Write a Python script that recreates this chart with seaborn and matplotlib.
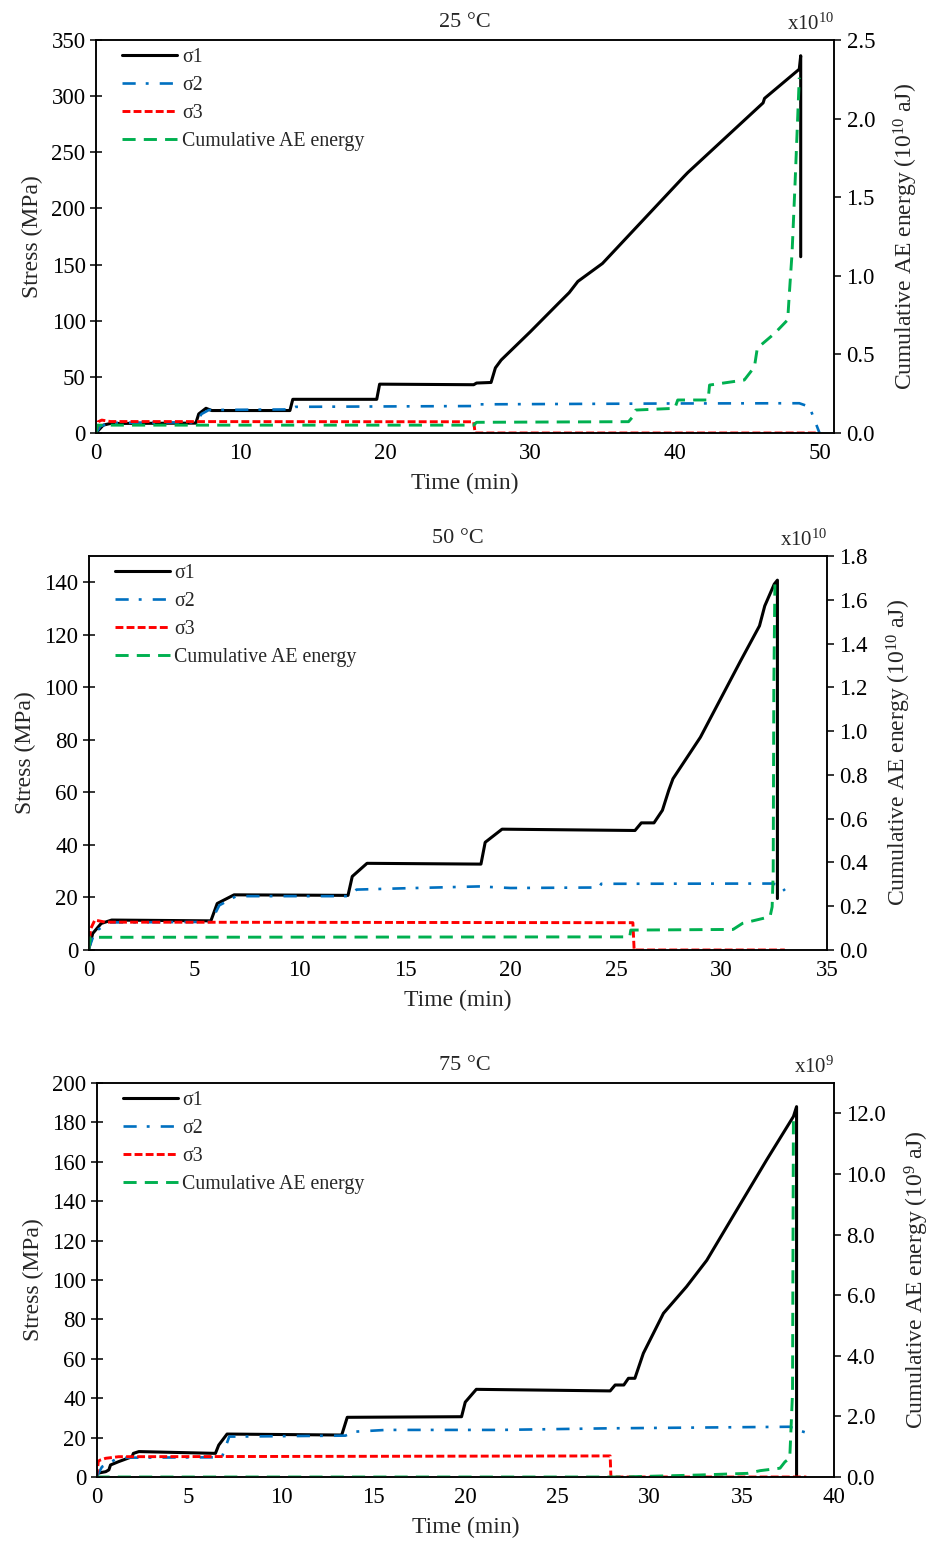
import numpy as np
import pandas as pd
import matplotlib
matplotlib.use("Agg")
import matplotlib.pyplot as plt
from matplotlib.ticker import MultipleLocator, FormatStrFormatter
import seaborn as sns

# ---------------- 25 °C ----------------
t25_s1 = [0, 0.5, 1.0, 6.9, 7.1, 7.6, 8.0, 13.4, 13.6, 19.4, 19.6, 26.1, 26.3, 27.3, 27.6, 28.0,
          30.0, 32.0, 32.7, 33.3, 35.0, 40.6, 40.9, 46.1, 46.2, 48.6, 48.7, 48.7]
s25_s1 = [0, 7, 8.5, 8.8, 17, 22, 20, 20, 30, 30, 43.5, 43, 44.5, 45, 58, 65,
          90, 116, 125, 135, 151, 228, 232, 294, 298, 324, 336, 157]
t25_s2 = [0, 0.3, 1.0, 6.9, 7.3, 7.8, 13.4, 13.8, 26.0, 26.2, 40.0, 48.6, 49.3, 50.0]
s25_s2 = [0, 6, 9, 9.5, 17, 20.5, 21, 23.3, 24, 25.5, 26.3, 26.5, 23.4, 0]
t25_s3 = [0, 0.15, 0.4, 1.0, 26.1, 26.2, 50.0]
s25_s3 = [0, 10, 11.5, 10.2, 10, 0, 0]
t25_ae = [0, 0.1, 26.1, 26.3, 36.8, 37.1, 37.3, 40.0, 40.2, 42.3, 42.4, 44.8, 45.5, 45.7,
          46.9, 47.8, 47.9, 48.1, 48.3, 48.6]
e25_ae = [0, 0.05, 0.05, 0.068, 0.072, 0.104, 0.146, 0.157, 0.21, 0.21, 0.305, 0.337, 0.42, 0.54,
          0.634, 0.72, 0.867, 1.143, 1.567, 2.26]

# ---------------- 50 °C ----------------
t50_s1 = [0, 0.2, 0.6, 1.1, 5.8, 6.1, 6.9, 12.3, 12.5, 13.2, 18.6, 18.8, 19.6, 25.9, 26.2, 26.8,
          27.2, 27.5, 27.7, 29.0, 30.9, 31.8, 32.05, 32.5, 32.65, 32.65]
s50_s1 = [0, 6.3, 10.1, 11.4, 11.1, 17.7, 21.0, 20.8, 28.0, 33.0, 32.7, 41, 46, 45.5, 48.4, 48.4,
          53.2, 60.8, 65.2, 81, 110, 123.4, 131, 139.3, 140.8, 19.6]
t50_s2 = [0, 0.3, 1.0, 5.8, 6.2, 7.0, 12.4, 12.7, 15.0, 18.5, 20.0, 24.2, 24.3, 32.4, 32.8, 33.0]
s50_s2 = [0, 7, 10.5, 10.7, 17, 20.5, 20.5, 23, 23.5, 24.2, 23.6, 23.8, 25.2, 25.3, 24.7, 22.5]
t50_s3 = [0, 0.1, 0.3, 0.8, 25.8, 25.86, 33.0]
s50_s3 = [0, 8, 11.4, 10.6, 10.4, 0, 0]
t50_ae = [0, 0.1, 25.65, 25.7, 30.55, 31.0, 32.3, 32.4, 32.45, 32.48, 32.53]
e50_ae = [0, 0.058, 0.06, 0.091, 0.094, 0.122, 0.152, 0.197, 0.35, 1.2, 1.67]

# ---------------- 75 °C ----------------
t75_s1 = [0, 0.05, 0.5, 0.67, 0.76, 1.2, 1.93, 2.0, 2.3, 6.45, 6.63, 7.08, 13.3, 13.6, 19.8, 20.0,
          20.6, 27.86, 28.13, 28.6, 28.85, 29.2, 29.66, 30.75, 32.0, 33.1, 34.5, 36.35, 37.8,
          37.97, 37.97]
s75_s1 = [0, 1.9, 2.7, 3.6, 6.1, 7.8, 10.3, 12, 12.9, 12.0, 16.2, 21.8, 21.3, 30.3, 30.6, 38,
          44.5, 43.7, 46.7, 46.7, 50.1, 50.1, 62.8, 83.1, 96.6, 110, 132, 161, 183,
          188, 0]
t75_s2 = [0, 0.3, 1.2, 6.8, 7.2, 13.5, 14.0, 15.7, 21.9, 27.7, 37.6, 38.15, 38.5]
s75_s2 = [0, 5.2, 9.8, 10, 20.5, 21, 23, 23.9, 23.9, 24.7, 25.5, 23.5, 22.5]
t75_s3 = [0, 0.1, 0.2, 0.5, 1.2, 27.86, 27.9, 38.5]
s75_s3 = [0, 8, 8.6, 9.5, 10.3, 10.7, 0, 0]
t75_ae = [0, 28.5, 32.7, 35.3, 36.0, 37.07, 37.34, 37.6, 37.75, 37.8]
e75_ae = [0, 0, 0.066, 0.12, 0.21, 0.29, 0.5, 0.62, 2.76, 12.0]

titles = ["25 °C", "50 °C", "75 °C"]
exponents = ["10", "10", "9"]

sns.set_style("white")
plt.rcParams['font.family'] = ['Liberation Serif', 'DejaVu Serif']
plt.rcParams['mathtext.default'] = 'regular'
plt.rcParams['axes.linewidth'] = 1.1

BLUE = "#0070C0"
RED = "#FF0000"
GREEN = "#00B050"

panels = [
    dict(s1=(t25_s1, s25_s1), s2=(t25_s2, s25_s2), s3=(t25_s3, s25_s3), ae=(t25_ae, e25_ae),
         xmax=51, xstep=10, ymax=350, ystep=50, emax=2.5, estep=0.5,
         rect=[96 / 932, 1 - 433 / 1546, 738 / 932, 393 / 1546]),
    dict(s1=(t50_s1, s50_s1), s2=(t50_s2, s50_s2), s3=(t50_s3, s50_s3), ae=(t50_ae, e50_ae),
         xmax=35, xstep=5, ymax=150, ystep=20, emax=1.8, estep=0.2,
         rect=[88.5 / 932, 1 - 950 / 1546, 738.5 / 932, 394 / 1546]),
    dict(s1=(t75_s1, s75_s1), s2=(t75_s2, s75_s2), s3=(t75_s3, s75_s3), ae=(t75_ae, e75_ae),
         xmax=40, xstep=5, ymax=200, ystep=20, emax=13.0, estep=2.0,
         rect=[96.5 / 932, 1 - 1477 / 1546, 737.5 / 932, 394 / 1546]),
]

FS_TICK = 16.5
FS_LAB = 17
FS_LEG = 14.3
fig = plt.figure(figsize=(9.32, 15.46), dpi=100)

for p, title, ex in zip(panels, titles, exponents):
    ax = fig.add_axes(p["rect"])
    ax2 = ax.twinx()

    d1 = pd.DataFrame({"t": p["s1"][0], "v": p["s1"][1]})
    d2 = pd.DataFrame({"t": p["s2"][0], "v": p["s2"][1]})
    d3 = pd.DataFrame({"t": p["s3"][0], "v": p["s3"][1]})
    d4 = pd.DataFrame({"t": p["ae"][0], "v": p["ae"][1]})

    sns.lineplot(data=d1, x="t", y="v", ax=ax, estimator=None, sort=False,
                 color="black", linewidth=2.2, label="σ1", legend=False)
    sns.lineplot(data=d2, x="t", y="v", ax=ax, estimator=None, sort=False,
                 color=BLUE, linewidth=1.9, linestyle=(0, (5.0, 3.8, 1.1, 4.2)),
                 label="σ2", legend=False)
    sns.lineplot(data=d3, x="t", y="v", ax=ax, estimator=None, sort=False,
                 color=RED, linewidth=2.1, linestyle=(0, (2.7, 1.1)),
                 label="σ3", legend=False)
    sns.lineplot(data=d4, x="t", y="v", ax=ax2, estimator=None, sort=False,
                 color=GREEN, linewidth=2.1, linestyle=(0, (4.5, 2.8)),
                 label="Cumulative AE energy", legend=False)

    ax.set_xlim(0, p["xmax"])
    ax.set_ylim(0, p["ymax"])
    ax2.set_ylim(0, p["emax"])
    ax.xaxis.set_major_locator(MultipleLocator(p["xstep"]))
    ax.yaxis.set_major_locator(MultipleLocator(p["ystep"]))
    ax2.yaxis.set_major_locator(MultipleLocator(p["estep"]))
    ax2.yaxis.set_major_formatter(FormatStrFormatter("%.1f"))

    ax.tick_params(axis="both", direction="inout", length=9, width=1.1,
                   labelsize=FS_TICK, colors="black", pad=3)
    ax2.tick_params(axis="y", direction="out", length=5, width=1.1,
                    labelsize=FS_TICK, colors="black", pad=4)
    for a in (ax, ax2):
        for s in a.spines.values():
            s.set_color("black")
            s.set_linewidth(1.1)

    ax.set_xlabel("Time (min)", fontsize=FS_LAB, labelpad=6)
    ax.set_ylabel("Stress (MPa)", fontsize=FS_LAB, labelpad=6)
    ax2.set_ylabel("Cumulative AE energy (10$^{%s}$ aJ)" % ex, fontsize=FS_LAB, labelpad=12)
    ax.set_title(title, fontsize=16, pad=9)
    ax2.text(1.0, 1.012, "x10$^{%s}$" % ex, transform=ax2.transAxes,
             ha="right", va="bottom", fontsize=15)

    h1, l1 = ax.get_legend_handles_labels()
    h2, l2 = ax2.get_legend_handles_labels()
    ax2.legend(h1 + h2, l1 + l2, loc="upper left", bbox_to_anchor=(0.025, 1.0),
               borderaxespad=0, frameon=False, fontsize=FS_LEG, handlelength=2.75,
               handletextpad=0.25, labelspacing=0.45)

fig.savefig("out.png", dpi=100)
